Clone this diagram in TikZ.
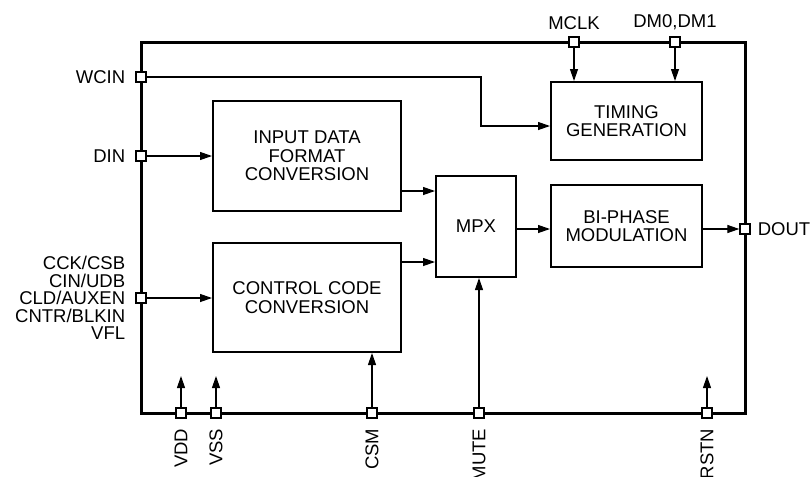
\documentclass[tikz,border=0pt]{standalone}
\usepackage{fontspec}
\setmainfont{Liberation Sans}
\usetikzlibrary{positioning,calc,arrows.meta}

\begin{document}
\begin{tikzpicture}[x=1pt, y=-1pt,
    block/.style={rectangle, draw, line width=2pt, align=center, inner sep=0pt, font=\fontsize{18.5}{18.5}\selectfont},
    pin/.style={rectangle, draw, fill=white, line width=1.3pt, minimum size=10pt, inner sep=0pt},
    lbl/.style={font=\fontsize{18.5}{17.5}\selectfont, inner sep=2pt},
    arrow/.style={-{Triangle[length=12pt,width=8pt]}, line width=1.2pt}
  ]
  \useasboundingbox (0,0) rectangle (812,477);

  % chip outline
  \draw[line width=3pt] (141,42) rectangle (745,413);

  % functional blocks
  \node[block, minimum width=188pt, minimum height=110pt] (idf) at (307,156) {INPUT DATA\\FORMAT\\CONVERSION};
  \node[block, minimum width=188pt, minimum height=109pt] (ccc) at (307,297.5) {CONTROL CODE\\CONVERSION};
  \node[block, minimum width=80pt, minimum height=101pt] (mpx) at (476,226.5) {MPX};
  \node[block, minimum width=151pt, minimum height=82pt] (bpm) at (626.5,226) {BI-PHASE\\MODULATION};
  \node[block, minimum width=151pt, minimum height=78pt] (tgen) at (626.5,121) {TIMING\\GENERATION};

  % pins
  \node[pin] (wcin) at (141,77) {};
  \node[pin] (din) at (141,156) {};
  \node[pin] (cld) at (141,298) {};
  \node[pin] (mclk) at (574,42) {};
  \node[pin] (dm) at (675,42) {};
  \node[pin] (dout) at (745,229) {};
  \node[pin] (vdd) at (181,413) {};
  \node[pin] (vss) at (216,413) {};
  \node[pin] (csm) at (372,413) {};
  \node[pin] (mute) at (479,413) {};
  \node[pin] (rstn) at (707,413) {};

  % pin labels
  \node[lbl, left=8pt of wcin] (wcinl) {WCIN};
  \node[lbl, left=8pt of din] (dinl) {DIN};
  \node[lbl, align=right, left=8pt of cld] (cldl) {CCK/CSB\\CIN/UDB\\CLD/AUXEN\\CNTR/BLKIN\\VFL};
  \node[lbl, above=4pt of mclk] (mclkl) {MCLK};
  \node[lbl, above=4pt of dm] (dml) {DM0,DM1};
  \node[lbl, right=5pt of dout] (doutl) {DOUT};
  \node[lbl, rotate=90, anchor=east] (vddl) at ($(vdd.south)+(0,8)$) {VDD};
  \node[lbl, rotate=90, anchor=east] (vssl) at ($(vss.south)+(0,8)$) {VSS};
  \node[lbl, rotate=90, anchor=east] (csml) at ($(csm.south)+(0,8)$) {CSM};
  \node[lbl, rotate=90, anchor=east] (mutel) at ($(mute.south)+(0,8)$) {MUTE};
  \node[lbl, rotate=90, anchor=east] (rstnl) at ($(rstn.south)+(0,8)$) {RSTN};

  % signal paths
  \coordinate (wbend) at (481,126);
  \coordinate (idfo) at ($(idf.east)+(0,35)$);
  \coordinate (ccco) at ($(ccc.east)+(0,-35.5)$);
  \coordinate (vddup) at (181,376);
  \coordinate (vssup) at (216,376);
  \coordinate (rstnup) at (707,376);

  \draw[arrow] (wcin) -| (wbend) -- (tgen.west |- wbend);
  \draw[arrow] (din) -- (idf.west |- din);
  \draw[arrow] (cld) -- (ccc.west |- cld);
  \draw[arrow] (idfo) -- (idfo -| mpx.west);
  \draw[arrow] (ccco) -- (ccco -| mpx.west);
  \draw[arrow] (mpx.east |- dout) -- (bpm.west |- dout);
  \draw[arrow] (bpm.east |- dout) -- (dout);
  \draw[arrow] (mclk) -- (tgen.north -| mclk);
  \draw[arrow] (dm) -- (tgen.north -| dm);
  \draw[arrow] (csm) -- (ccc.south -| csm);
  \draw[arrow] (mute) -- (mpx.south -| mute);
  \draw[arrow] (vdd) -- (vddup);
  \draw[arrow] (vss) -- (vssup);
  \draw[arrow] (rstn) -- (rstnup);
\end{tikzpicture}
\end{document}
